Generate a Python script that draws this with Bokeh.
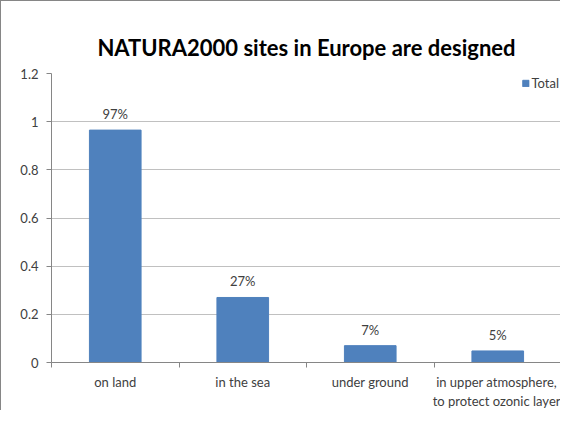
from bokeh.plotting import figure
from bokeh.models import FixedTicker, LinearAxis, Range1d, Legend, LegendItem, ColumnDataSource, Title
from bokeh.embed import file_html
from bokeh.resources import INLINE
from bokeh.core.properties import value

categories = ["on land", "in the sea", "under ground", "in upper atmosphere,\nto protect ozonic layer"]
values = [0.965, 0.27, 0.07, 0.048]
pct_labels = ["97%", "27%", "7%", "5%"]
y_ticks = [0, 0.2, 0.4, 0.6, 0.8, 1.0, 1.2]
y_tick_labels = ["0", "0.2", "0.4", "0.6", "0.8", "1", "1.2"]
title_text = "NATURA2000 sites in Europe are designed"

FONT = "Lato"
BAR = "#4F81BD"

xpos = [i + 0.5 for i in range(len(categories))]
src = ColumnDataSource(dict(x=xpos, top=values, lab=pct_labels))

p = figure(width=560, height=410, output_backend="svg", toolbar_location=None,
           x_range=Range1d(0, 4), y_range=Range1d(0, 1.2),
           min_border_left=50, min_border_right=0, min_border_top=72, min_border_bottom=49,
           x_axis_location=None)
p.title.text = title_text
p.title.align = "center"
p.title.text_font = FONT
p.title.text_font_size = "22px"
p.title.text_font_style = "bold"
p.title.text_color = "#000000"

# thin spacer between title and plot area
p.add_layout(Title(text=" ", text_font_size="6px", standoff=0), "above")

r = p.vbar(x="x", top="top", width=0.405, bottom=0, color=BAR, source=src)
p.text(x="x", y="top", text="lab", source=src, text_align="center", text_baseline="bottom",
       y_offset=-8, text_font=value(FONT), text_font_size="13px", text_color="#404040")

# y axis
p.yaxis.ticker = FixedTicker(ticks=y_ticks)
p.yaxis.major_label_overrides = {t: l for t, l in zip(y_ticks, y_tick_labels)}
p.yaxis.major_label_text_font = FONT
p.yaxis.major_label_text_font_size = "13px"
p.yaxis.major_label_text_color = "#404040"
p.yaxis.axis_line_color = "#868686"
p.yaxis.major_tick_line_color = "#868686"
p.yaxis.major_tick_out = 5
p.yaxis.major_tick_in = 0
p.yaxis.minor_tick_line_color = None
p.yaxis.major_label_standoff = 8

# x axis: ticks at category boundaries, no labels
bounds = [0, 1, 2, 3, 4]
xa = LinearAxis(ticker=FixedTicker(ticks=bounds),
                major_label_overrides={b: "" for b in bounds},
                axis_line_color="#868686", major_tick_line_color="#868686",
                major_tick_out=5, major_tick_in=0, minor_tick_line_color=None,
                major_label_standoff=0)
p.add_layout(xa, "below")
# x axis: labels at centers
xl = LinearAxis(ticker=FixedTicker(ticks=xpos),
                major_label_overrides={x: c for x, c in zip(xpos, categories)},
                axis_line_color=None, major_tick_line_color=None, minor_tick_line_color=None,
                major_label_text_font=FONT, major_label_text_font_size="13px",
                major_label_text_color="#404040", major_label_standoff=0)
p.add_layout(xl, "below")

p.xgrid.grid_line_color = None
p.ygrid.ticker = FixedTicker(ticks=y_ticks)
p.ygrid.grid_line_color = "#C0C0C0"
p.outline_line_color = None

legend = Legend(items=[LegendItem(label="Total", renderers=[r])], location="top_right",
                border_line_color=None, background_fill_alpha=0,
                label_text_font=FONT, label_text_font_size="13px", label_text_color="#404040",
                glyph_width=8, glyph_height=8, padding=0, margin=2, label_standoff=2)
p.add_layout(legend)

p.styles = {"border-left": "1px solid #868686", "border-top": "1px solid #868686"}

open("out.html", "w").write(file_html(p, INLINE))
